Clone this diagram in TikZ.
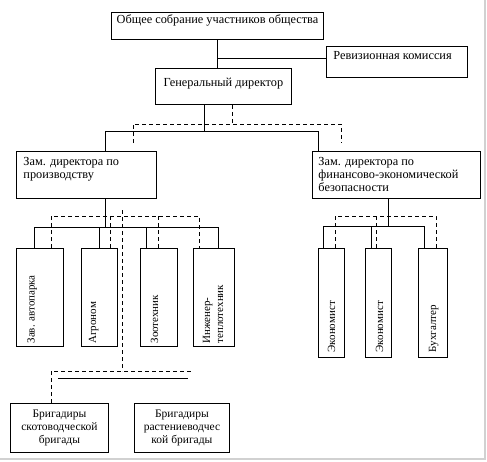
\documentclass[tikz,border=0pt]{standalone}
\usepackage{fontspec}
\setmainfont{Liberation Serif}
\usepackage{graphicx}
\newcommand\inbox[5]{\parbox[t][#2][t]{#1}{\vspace*{#3}\noindent\hspace*{#4}\parbox[t]{\dimexpr#1-#4-#4\relax}{#5}}}
\begin{document}
\begin{tikzpicture}[x=1pt,y=-1pt,
  every node/.style={font=\fontsize{11}{13}\selectfont},
  big/.style={font=\fontsize{12.3}{13}\selectfont},
  mid/.style={font=\fontsize{11.5}{13}\selectfont},
  box/.style={draw, line width=0.9pt, inner sep=0pt, anchor=north west},
  con/.style={line width=0.8pt},
  dsh/.style={line width=0.8pt, dash pattern=on 4pt off 3pt}]
\useasboundingbox (0,0) rectangle (487,461);
% boxes
\node[box,big] (gsm) at (111,12) {\inbox{212pt}{27pt}{2.5pt}{1pt}{\centering Общее собрание участников общества}};
\node[box,big] (rk) at (326,46) {\inbox{141pt}{31pt}{4.5pt}{7pt}{\raggedright Ревизионная комиссия}};
\node[box,big] (gd) at (155,68) {\inbox{136pt}{36pt}{10pt}{2pt}{\centering Генеральный директор}};
\node[box,big] (zp) at (16,151) {\inbox{140pt}{47pt}{5.5pt}{7pt}{\raggedright Зам. директора по\\производству}};
\node[box,big] (zf) at (312,151) {\inbox{168pt}{47pt}{5.5pt}{6pt}{\raggedright Зам. директора по\\финансово-экономической\\безопасности}};
\node[box] (za) at (16,248) {\rotatebox{90}{\inbox{98pt}{47pt}{11pt}{3pt}{\raggedright Зав. автопарка}}};
\node[box] (ag) at (81,248) {\rotatebox{90}{\inbox{98pt}{36pt}{7.5pt}{3pt}{\raggedright Агроном}}};
\node[box] (zo) at (140,248) {\rotatebox{90}{\inbox{98pt}{37pt}{10.5pt}{3pt}{\raggedright Зоотехник}}};
\node[box] (zi) at (193,248) {\rotatebox{90}{\inbox{98pt}{41pt}{9.5pt}{3pt}{\raggedright Инженер-\\теплотехник}}};
\node[box] (e1) at (318,248) {\rotatebox{90}{\inbox{109pt}{26pt}{9.5pt}{5pt}{\raggedright Экономист}}};
\node[box] (e2) at (365,248) {\rotatebox{90}{\inbox{109pt}{26pt}{10.5pt}{5pt}{\raggedright Экономист}}};
\node[box] (bu) at (418,248) {\rotatebox{90}{\inbox{109pt}{29pt}{10.5pt}{5pt}{\raggedright Бухгалтер}}};
\node[box,mid] (b1) at (10,403) {\inbox{98pt}{49pt}{7pt}{1pt}{\centering Бригадиры\\скотоводческой\\бригады}};
\node[box,mid] (b2) at (134,403) {\inbox{95pt}{49pt}{7pt}{1pt}{\centering Бригадиры\\растениеводчес\\кой бригады}};
% top connectors
\draw[con] (gsm.south) -- (gsm.south |- gd.north);
\coordinate (rj) at (217,58);
\draw[con] (rj) -- (rj -| rk.west);
% general director to deputies
\coordinate (g1) at (204,131);
\coordinate (g2) at (105,131);
\coordinate (g3) at (318,131);
\draw[con] (gd.south -| g1) -- (g1);
\draw[con] (zp.north -| g2) -- (g2) -- (g3) -- (zf.north -| g3);
\coordinate (d1) at (232,124);
\coordinate (d2) at (133,124);
\coordinate (d3) at (341,124);
\coordinate (d2e) at (133,143);
\coordinate (d3e) at (341,143);
\draw[dsh] (gd.south -| d1) -- (d1);
\draw[dsh] (d2e) -- (d2) -- (d3) -- (d3e);
% left group
\coordinate (p1) at (105,227);
\coordinate (pL) at (34,227);
\coordinate (pR) at (218,227);
\coordinate (p3) at (146,227);
\draw[con] (zp.south -| p1) -- (p1);
\draw[con] (za.north -| pL) -- (pL) -- (pR) -- (zi.north -| pR);
\draw[con] (ag.north |- pL) -- (ag.north);
\draw[con] (p3) -- (zo.north -| p3);
\coordinate (q1) at (51,216);
\coordinate (q2) at (110,216);
\coordinate (q3) at (158,216);
\coordinate (q4) at (199,216);
\draw[dsh] (za.north -| q1) -- (q1) -- (q4) -- (zi.north -| q4);
\draw[dsh] (q2) -- (ag.north -| q2);
\draw[dsh] (q3) -- (zo.north -| q3);
% brigade lines
\coordinate (v1) at (122,210);
\coordinate (v2) at (122,371);
\coordinate (v3) at (51,371);
\coordinate (v4) at (193,371);
\draw[dsh] (v1) -- (v2);
\draw[dsh] (b1.north -| v3) -- (v3) -- (v4);
\coordinate (s1) at (58,378);
\coordinate (s2) at (188,378);
\draw[con] (s1) -- (s2);
% right group
\coordinate (f1) at (388,226);
\coordinate (fL) at (323,226);
\coordinate (fM) at (371,226);
\coordinate (fR) at (424,226);
\draw[con] (zf.south -| f1) -- (f1);
\draw[con] (e1.north -| fL) -- (fL) -- (fR) -- (bu.north -| fR);
\draw[con] (fM) -- (e2.north -| fM);
\coordinate (h1) at (335,216);
\coordinate (h2) at (376,216);
\coordinate (h3) at (436,216);
\draw[dsh] (e1.north -| h1) -- (h1) -- (h3) -- (bu.north -| h3);
\draw[dsh] (h2) -- (e2.north -| h2);
% frame
\draw[black!18, line width=1.5pt] (485,0) -- (485,459) -- (0,459);
\end{tikzpicture}
\end{document}
